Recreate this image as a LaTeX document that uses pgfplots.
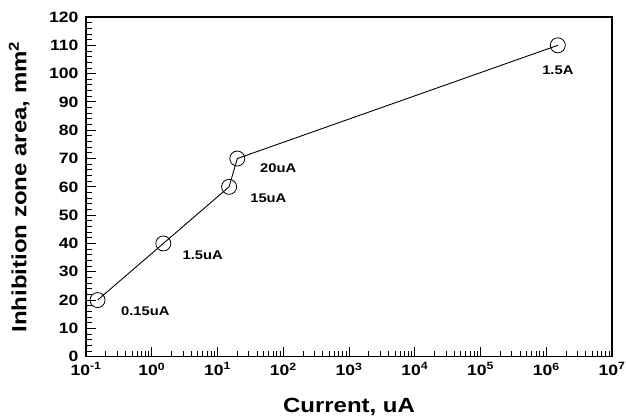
\documentclass[border=0pt]{standalone}
\usepackage{pgfplots}
\pgfplotsset{compat=1.18}
\usepackage{fontspec}
\setmainfont{Liberation Sans}[FakeStretch=1.17]
\newcommand{\tickfont}{\fontsize{15}{17}\selectfont\bfseries}
\begin{document}
\begin{tikzpicture}
\path[use as bounding box] (-86pt,-61.3pt) rectangle (540pt,356.7pt);
\begin{axis}[
  at={(0pt,0pt)}, anchor=south west,
  scale only axis, width=526pt, height=339.7pt,
  xmode=log, xmin=0.1, xmax=1e7,
  ymin=0, ymax=120,
  xtick={0.1,1,10,100,1000,10000,100000,1000000,10000000},
  xticklabels={10\textsuperscript{-1},10\textsuperscript{0},10\textsuperscript{1},10\textsuperscript{2},10\textsuperscript{3},10\textsuperscript{4},10\textsuperscript{5},10\textsuperscript{6},10\textsuperscript{7}},
  ytick={0,10,...,120},
  yticklabels={0,10,20,30,40,50,60,70,80,90,100,110,120},
  minor y tick num=4,
  tick pos=left,
  tick align=inside,
  major tick length=10pt,
  minor tick length=6pt,
  axis line style={line width=1.2pt},
  every tick/.style={line width=0.9pt, black},
  /pgf/number format/assume math mode=true,
  every tick label/.append style={font=\tickfont},
  yticklabel style={font=\tickfont, xshift=-4pt},
  xticklabel style={font=\tickfont, yshift=-2.5pt},
  xlabel={Current, uA},
  ylabel={Inhibition zone area, mm\textsuperscript{2}},
  label style={font=\fontsize{20.5}{23}\selectfont\bfseries},
  xlabel style={at={(axis description cs:0.5,-0.147)}, anchor=center},
  ylabel style={at={(axis description cs:-0.127,0.5)}, anchor=center},
]
\addplot[black, line width=0.9pt, mark=o, mark size=7.5pt, mark options={line width=0.8pt, fill=none}]
  coordinates {(0.15,20) (1.5,40) (15,60) (20,70) (1500000,110)};
\begin{scope}[every node/.style={font=\fontsize{12.6}{14}\selectfont\bfseries}]
\node[anchor=west, xshift=20pt, yshift=-11pt] at (axis cs:0.15,20) {0.15uA};
\node[anchor=west, xshift=15.7pt, yshift=-11.5pt] at (axis cs:1.5,40) {1.5uA};
\node[anchor=west, xshift=17.7pt, yshift=-11pt] at (axis cs:15,60) {15uA};
\node[anchor=west, xshift=19.4pt, yshift=-9.2pt] at (axis cs:20,70) {20uA};
\node[anchor=center, yshift=-25pt] at (axis cs:1500000,110) {1.5A};
\end{scope}
\end{axis}
\end{tikzpicture}
\end{document}
